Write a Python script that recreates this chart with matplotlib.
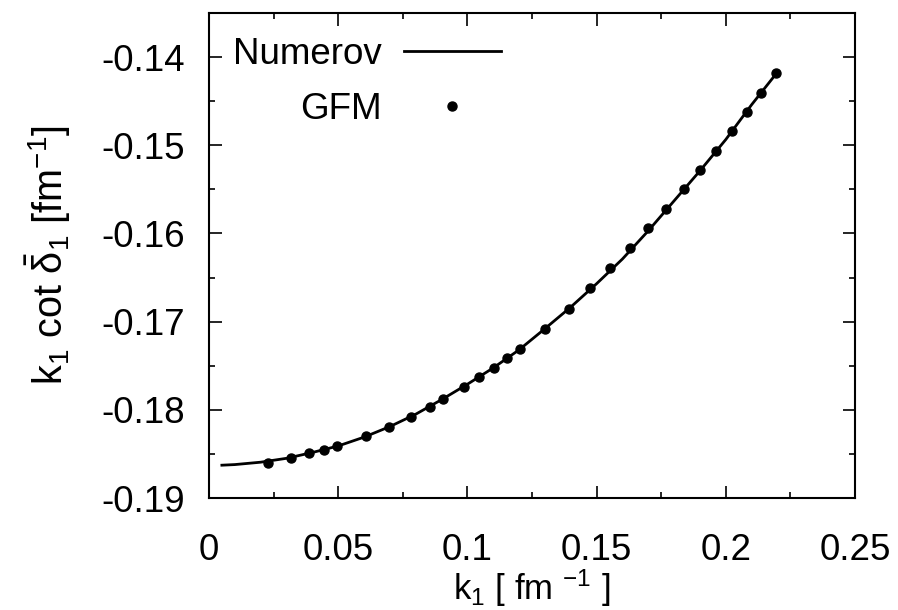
import numpy as np
import matplotlib
matplotlib.use("Agg")
import matplotlib.pyplot as plt
from matplotlib.ticker import MultipleLocator, FormatStrFormatter

# Numerov curve
k_line = [0.005, 0.01, 0.02, 0.03, 0.04, 0.05, 0.06, 0.07, 0.08, 0.09, 0.10, 0.11,
          0.12, 0.13, 0.14, 0.15, 0.16, 0.17, 0.18, 0.19, 0.20, 0.21, 0.22]
y_line = [-0.18628, -0.18621, -0.18594, -0.18550, -0.18484, -0.18410, -0.18310,
          -0.18190, -0.18050, -0.17885, -0.17710, -0.17525, -0.17320, -0.17080,
          -0.16835, -0.16570, -0.16290, -0.15970, -0.15630, -0.15290, -0.14935,
          -0.14540, -0.14170]

# GFM points
k_gfm = [0.0227, 0.0316, 0.0386, 0.0445, 0.0495, 0.0606, 0.0698, 0.0780,
         0.0855, 0.0907, 0.0987, 0.1044, 0.1102, 0.1153, 0.1205, 0.1299, 0.1392,
         0.1474, 0.1552, 0.1629, 0.1700, 0.1770, 0.1837, 0.1901,
         0.1962, 0.2023, 0.2082, 0.2136, 0.2195]
y_gfm = [-0.1860, -0.1855, -0.1849, -0.18456, -0.18414, -0.1830, -0.1820, -0.1808,
         -0.17965, -0.17874, -0.17738, -0.17632, -0.17526, -0.17416, -0.17311,
         -0.17084, -0.16857,
         -0.16619, -0.16389, -0.16162, -0.15942, -0.1572, -0.1550, -0.15285,
         -0.15062, -0.14839, -0.14624, -0.14405, -0.14185]

plt.rcParams['font.family'] = ['Liberation Sans', 'DejaVu Sans']
plt.rcParams['mathtext.fontset'] = 'custom'
plt.rcParams['mathtext.rm'] = 'Liberation Sans'
plt.rcParams['mathtext.it'] = 'Liberation Sans'
plt.rcParams['mathtext.default'] = 'regular'
plt.rcParams['axes.unicode_minus'] = False

fs = 26.5

fig = plt.figure(figsize=(8.98, 6.10), dpi=100)
ax = fig.add_axes([0.2327, 0.1836, 0.9521 - 0.2327, 0.9787 - 0.1836])

ax.plot(k_line, y_line, color='black', lw=2.0, label='Numerov', zorder=2)
ax.plot(k_gfm, y_gfm, 'o', color='black', ms=6.5, label='GFM', zorder=3)

ax.set_xlim(0, 0.25)
ax.set_ylim(-0.19, -0.135)

ax.xaxis.set_major_locator(MultipleLocator(0.05))
ax.xaxis.set_minor_locator(MultipleLocator(0.025))
ax.yaxis.set_major_locator(MultipleLocator(0.01))
ax.yaxis.set_minor_locator(MultipleLocator(0.005))
ax.xaxis.set_major_formatter(FormatStrFormatter('%g'))
ax.yaxis.set_major_formatter(FormatStrFormatter('%g'))

ax.tick_params(which='both', direction='in', top=True, right=True, width=1.2, labelsize=fs)
ax.tick_params(which='major', length=9)
ax.tick_params(which='minor', length=4.5)
ax.tick_params(axis='x', which='major', pad=25)
ax.tick_params(axis='y', which='major', pad=17)
for s in ax.spines.values():
    s.set_linewidth(1.5)

ax.set_xlabel(r'k$_1$ [ fm $^{-1}$ ]', fontsize=25, va='center')
ax.xaxis.set_label_coords(0.5, -0.186)
ax.set_ylabel(r'k$_1$ cot $\bar{\delta}_1$ [fm$^{-1}$]', fontsize=28.5, labelpad=21)

ax.legend(loc='upper left', frameon=False, markerfirst=False, fontsize=fs,
          handlelength=2.65, handletextpad=0.6, labelspacing=0.55,
          borderaxespad=0.25, numpoints=1)

fig.savefig('out.png', dpi=100)
